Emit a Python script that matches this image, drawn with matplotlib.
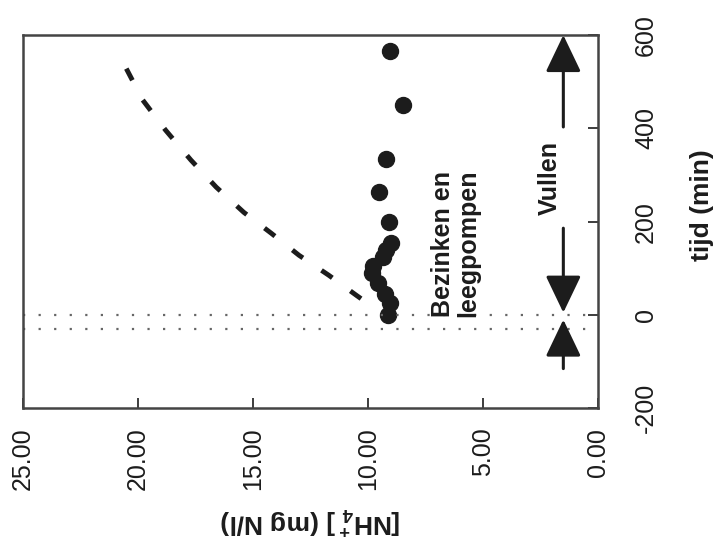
import numpy as np
import matplotlib
matplotlib.use("Agg")
import matplotlib.pyplot as plt

plt.rcParams['font.family'] = ['Liberation Sans', 'DejaVu Sans']
plt.rcParams['mathtext.fontset'] = 'custom'
plt.rcParams['mathtext.rm'] = 'Liberation Sans:bold'
plt.rcParams['mathtext.bf'] = 'Liberation Sans:bold'
plt.rcParams['mathtext.default'] = 'rm'

# measured ammonium (mg N/l) against time (min)
tijd_meting = [0, 25, 46, 68, 89, 106, 124, 139, 154, 199, 263, 334, 450, 566]
nh4_meting = [9.13, 9.04, 9.26, 9.57, 9.83, 9.78, 9.35, 9.22, 9.0, 9.1, 9.52, 9.22, 8.48, 9.04]

# dashed curve
tijd_curve = [35, 42, 85, 128, 175, 220, 274, 332, 396, 461, 546]
nh4_curve = [10.3, 10.5, 11.7, 13.0, 14.2, 15.4, 16.6, 17.7, 18.8, 19.8, 20.7]

# phase boundaries (min)
grenzen = [0, -30]

nh4_ticks = [25, 20, 15, 10, 5, 0]
tijd_ticks = [-200, 0, 200, 400, 600]

dark = '#1c1c1c'

fig = plt.figure(figsize=(7.22, 5.48), dpi=100)
ax = fig.add_axes([0.032, 0.255, 0.796, 0.681])

ax.plot(nh4_curve, tijd_curve, color=dark, lw=3.5, dashes=(2.7, 4.6),
        solid_capstyle='butt', dash_capstyle='butt')
ax.plot(nh4_meting, tijd_meting, 'o', color=dark, markersize=11.5)

for g in grenzen:
    ax.axhline(g, color='#666666', lw=1.6, dashes=(1, 6))

# arrows for the phases
arrow_x = 1.5
head = dict(arrowstyle='-|>,head_length=1.15,head_width=0.55', lw=2.2,
            color=dark, mutation_scale=20, shrinkA=0, shrinkB=0)
ax.annotate('', xy=(arrow_x, 600), xytext=(arrow_x, 403), arrowprops=head)
ax.annotate('', xy=(arrow_x, 5), xytext=(arrow_x, 186), arrowprops=head)
ax.annotate('', xy=(arrow_x, -10), xytext=(arrow_x, -115), arrowprops=head)

ax.text(2.1, 293, 'Vullen', rotation=90, ha='center', va='center',
        fontsize=18, fontweight='bold', color=dark)
ax.text(6.2, -5, 'Bezinken en\nleegpompen', rotation=90, ha='center',
        va='bottom', multialignment='left', fontsize=18, fontweight='bold',
        color=dark, linespacing=1.05)

ax.set_xlim(25, 0)
ax.set_ylim(-200, 600)
ax.set_xticks(nh4_ticks)
ax.set_xticklabels(['%.2f' % v for v in nh4_ticks], rotation=90)
ax.set_yticks(tijd_ticks)
ax.set_yticklabels([str(v) for v in tijd_ticks], rotation=90, va='center')

ax.yaxis.tick_right()
ax.tick_params(axis='both', direction='in', length=7, width=1.2,
               colors=dark, labelsize=18)
ax.tick_params(axis='y', pad=26)
ax.tick_params(axis='x', pad=14)

for s in ax.spines.values():
    s.set_color('#444444')
    s.set_linewidth(1.8)

ax.set_xlabel('[NH$_4^+$] (mg N/l)', rotation=180, fontsize=19,
              fontweight='bold', color=dark, va='center', ha='center')
ax.xaxis.set_label_coords(0.5, -0.30)
ax.yaxis.set_label_position('right')
ax.set_ylabel('tijd (min)', rotation=90, fontsize=19, fontweight='bold',
              color=dark, va='center', ha='center')
ax.yaxis.set_label_coords(1.181, 0.544)

fig.savefig('out.png', dpi=100)
